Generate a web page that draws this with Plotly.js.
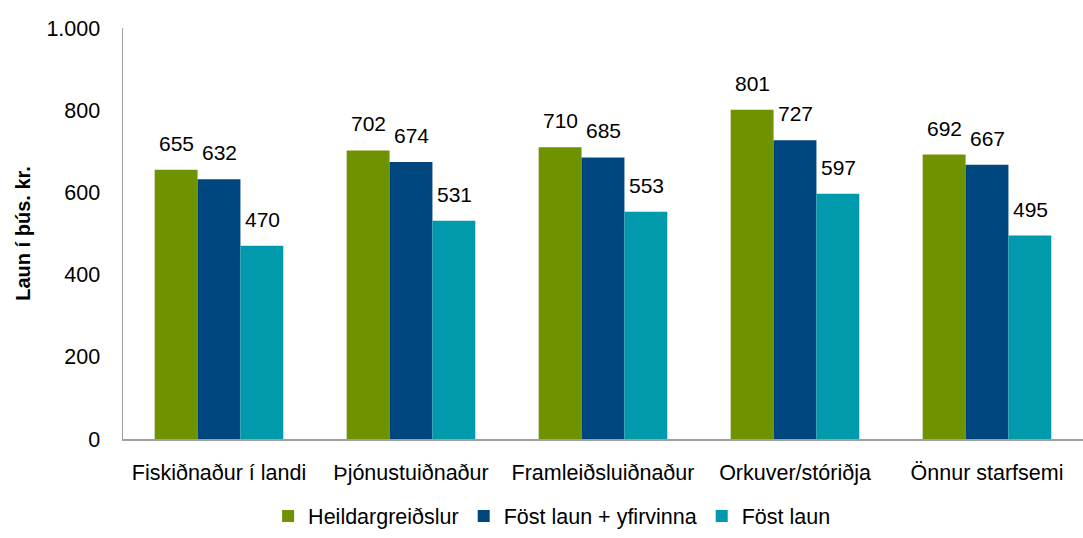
<!DOCTYPE html>
<html><head><meta charset="utf-8">
<script src="https://cdn.plot.ly/plotly-3.0.1.min.js"></script>
<style>html,body{margin:0;padding:0;background:#fff}</style>
</head><body>
<div id="chart" style="width:1083px;height:538px"></div>
<script>
const categories = ["Fiskiðnaður í landi", "Þjónustuiðnaður", "Framleiðsluiðnaður", "Orkuver/stóriðja", "Önnur starfsemi"];
const heildargreidslur = [655, 702, 710, 801, 692];
const fostLaunYfirvinna = [632, 674, 685, 727, 667];
const fostLaun = [470, 531, 553, 597, 495];
const seriesNames = ["Heildargreiðslur", "Föst laun + yfirvinna", "Föst laun"];
const colors = ["#6f9200", "#00467e", "#009aac"];

const fam = "Liberation Sans, Arial, sans-serif";
const font = {family: fam, size: 21.5, color: "#000"};
const labelFont = {family: fam, size: 21, color: "#000"};
const series = [heildargreidslur, fostLaunYfirvinna, fostLaun];
const traces = series.map((vals, i) => ({
  type: "bar", x: categories, y: vals, name: seriesNames[i],
  marker: {color: colors[i]}, hoverinfo: "none"
}));

// data labels, placed on the library's scales; xshift = offset of the bar inside its group
const barPx = 43;
const annotations = [];
series.forEach((vals, i) => {
  vals.forEach((v, j) => {
    annotations.push({x: categories[j], y: v, xref: "x", yref: "y", text: String(v),
      showarrow: false, yanchor: "bottom", xanchor: "center", xshift: (i - 1) * barPx, yshift: 13,
      font: labelFont});
  });
});

const layout = {
  width: 1083, height: 538,
  margin: {l: 123, r: 0, t: 28, b: 99},
  font: font,
  separators: ",.",
  showlegend: true,
  bargap: 0.33, bargroupgap: 0,
  plot_bgcolor: "#fff", paper_bgcolor: "#fff",
  annotations: annotations,
  xaxis: {showline: true, linecolor: "#a0a0a0", linewidth: 1.5, ticks: "", ticklabelstandoff: 14, tickfont: font, fixedrange: true, automargin: false},
  yaxis: {range: [0, 1000], dtick: 200, separatethousands: true, showgrid: false, zeroline: false, automargin: false,
          showline: true, linecolor: "#a0a0a0", linewidth: 1.5, ticks: "", ticklabelstandoff: 17, tickfont: font,
          title: {text: "<b>Laun í þús. kr.</b>", font: {family: fam, size: 20, color: "#000"}, standoff: 10}},
  legend: {orientation: "h", x: 0.447, xanchor: "center", y: -0.237, yanchor: "bottom", font: font, itemwidth: 30, traceorder: "normal"}
};
Plotly.newPlot("chart", traces, layout, {staticPlot: true});
</script>
</body></html>
